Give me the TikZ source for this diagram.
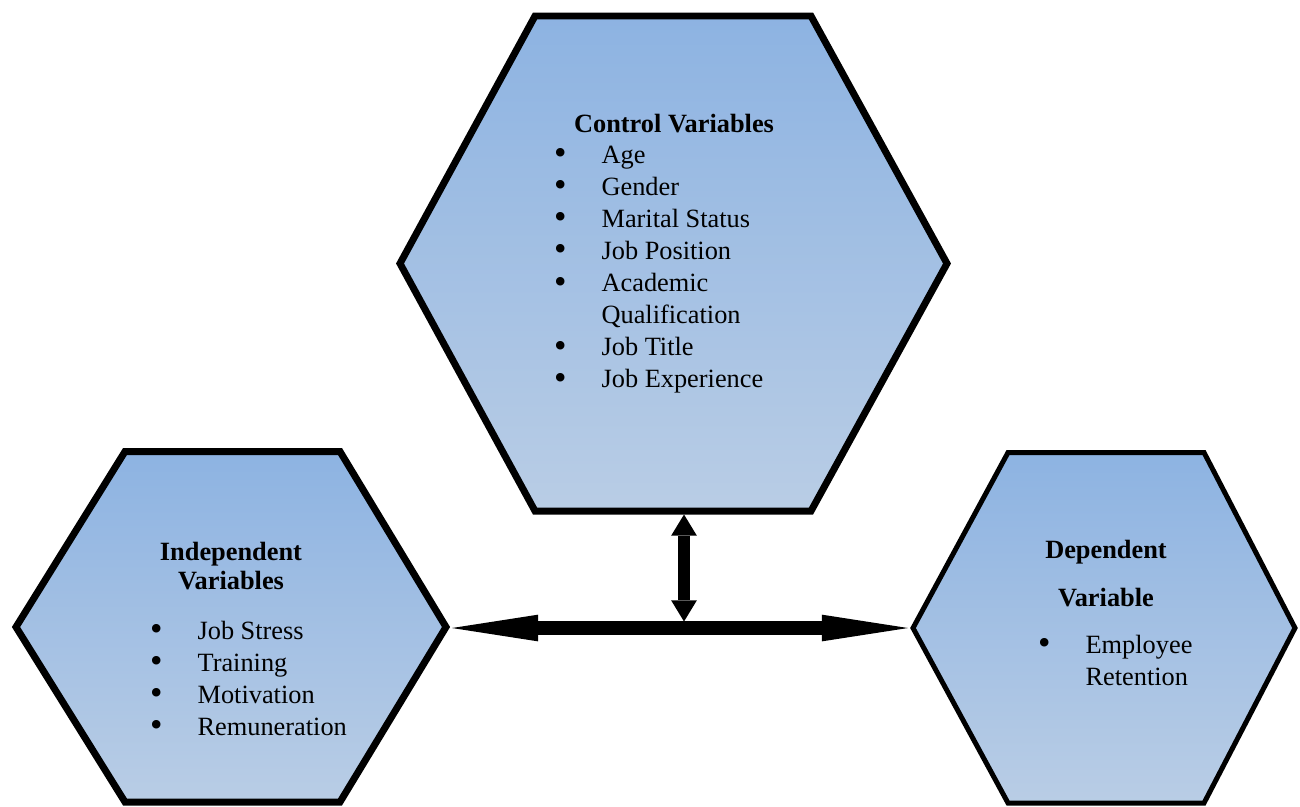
\documentclass[tikz,border=0pt]{standalone}
\usepackage{fontspec}
\setmainfont{Liberation Serif}
\usetikzlibrary{arrows.meta}
\definecolor{hextop}{HTML}{8DB3E2}
\definecolor{hexbot}{HTML}{B9CDE5}
\newcommand{\bul}{\raisebox{-1pt}{\scalebox{1.35}{•}}}
\newcommand{\bulletlist}[1]{\begin{tabular}[t]{@{}l@{\hspace{19.9pt}}l@{}}#1\end{tabular}}

\begin{document}
\begin{tikzpicture}[x=0.02cm,y=-0.02cm,
  hexa/.style={line join=miter,top color=hextop,bottom color=hexbot},
  head/.style={anchor=base,inner sep=0pt,font=\fontsize{15}{17}\selectfont\bfseries},
  items/.style={anchor=base west,inner sep=0pt,font=\fontsize{15}{18.25}\selectfont},
  link/.style={line width=7.9pt,{Triangle[length=49pt,width=15.2pt,line width=0pt]}-{Triangle[length=49pt,width=15.2pt,line width=0pt]}},
  vlink/.style={line width=6.6pt,{Triangle[length=12pt,width=14.6pt,line width=0pt]}-{Triangle[length=12pt,width=14.6pt,line width=0pt]}}]
  \useasboundingbox (0,0) rectangle (1300,806);

  % the three hexagons
  \draw[hexa,line width=3.97pt] (535,16) -- (811,16) -- (947,263.5) -- (811,511) -- (535,511) -- (400,263.5) -- cycle;
  \draw[hexa,line width=3.97pt] (125,451.5) -- (340,451.5) -- (446,627) -- (340,802) -- (125,802) -- (16,627) -- cycle;
  \draw[hexa,line width=2.83pt] (1008,452.5) -- (1204,452.5) -- (1295,628) -- (1204,803) -- (1008,803) -- (913,628) -- cycle;

  \coordinate (ctl-b) at (684,514.5);
  \coordinate (ind-r) at (452,628);
  \coordinate (dep-l) at (908,628);
  \coordinate (jn) at (684,621.5);

  % texts
  \node[head] (ctl-head) at (674,132) {Control Variables};
  \node[items] (ctl-list) at (553.8,163) {\bulletlist{%
    \bul&Age\\ \bul&Gender\\ \bul&Marital Status\\ \bul&Job Position\\
    \bul&Academic\\ &Qualification\\ \bul&Job Title\\ \bul&Job Experience}};

  \node[head] (ind-head) at (231,560) {\begin{tabular}[t]{@{}c@{}}Independent\\Variables\end{tabular}};
  \node[items] (ind-list) at (149.8,639) {\bulletlist{%
    \bul&Job Stress\\ \bul&Training\\ \bul&Motivation\\ \bul&Remuneration}};

  \node[head] (dep-head) at (1106,558) {\begin{tabular}[t]{@{}c@{}}Dependent\\[10.8pt]Variable\end{tabular}};
  \node[items] (dep-list) at (1037.8,653) {\bulletlist{%
    \bul&Employee\\ &Retention}};

  % connectors
  \draw[link] (ind-r) -- (dep-l);
  \draw[vlink] (ctl-b) -- (jn);
\end{tikzpicture}
\end{document}
